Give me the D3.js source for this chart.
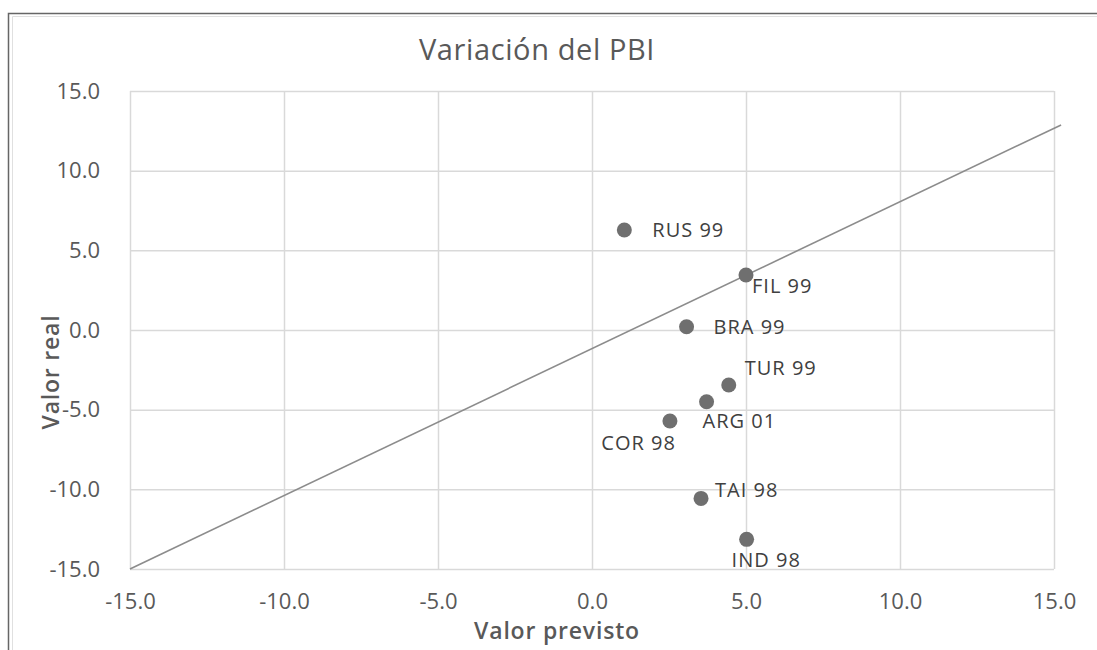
<!DOCTYPE html>
<html>
<head>
<meta charset="utf-8">
<script src="https://cdn.jsdelivr.net/npm/d3@7"></script>
<style>
	body { margin: 0; background: #fff; }
	svg text { font-family: "Open Sans", sans-serif; }
</style>
</head>
<body>
<div id="chart"></div>
<script>
// data
var countries = ['RUS 99', 'FIL 99', 'BRA 99', 'TUR 99', 'ARG 01', 'COR 98', 'TAI 98', 'IND 98'];
var previsto  = [1.05, 5.0, 3.07, 4.44, 3.72, 2.53, 3.54, 5.02];
var real      = [6.28, 3.45, 0.2, -3.45, -4.5, -5.71, -10.57, -13.14];
var refLineX  = [-15, 15.23];
var refLineY  = [-15, 12.87];
var ticks     = [-15, -10, -5, 0, 5, 10, 15];

// label offsets from each dot (px), as placed in the original
var labelOffset = {
	'RUS 99': [28, 0, 'start'],
	'FIL 99': [6, 10, 'start'],
	'BRA 99': [27, 0, 'start'],
	'TUR 99': [16, -17, 'start'],
	'ARG 01': [-4, 19, 'start'],
	'COR 98': [6, 22, 'end'],
	'TAI 98': [14, -9, 'start'],
	'IND 98': [-15, 20, 'start']
};

var width = 1097, height = 650;
var margin = {top: 91, right: 43, bottom: 81, left: 130};
var viewWidth  = width - margin.left - margin.right,
	viewHeight = height - margin.top - margin.bottom;

var svg = d3.select('#chart').append('svg')
	.attr('width', width)
	.attr('height', height);

// frame
svg.append('path')
	.attr('d', 'M8.5,650 V13.5 H1097')
	.attr('fill', 'none').attr('stroke', '#666').attr('stroke-width', 1.5);
svg.append('path')
	.attr('d', 'M12.5,650 V16.5 H1097')
	.attr('fill', 'none').attr('stroke', '#e0e0e0').attr('stroke-width', 1);

svg.append('text')
	.attr('x', 537).attr('y', 48)
	.attr('text-anchor', 'middle')
	.attr('dominant-baseline', 'central')
	.attr('fill', '#595959')
	.attr('font-size', 29)
	.attr('letter-spacing', 0.6)
	.text('Variación del PBI');

var vis = svg.append('g')
	.attr('transform', 'translate(' + margin.left + ',' + margin.top + ')');

var xScale = d3.scaleLinear().domain([-15, 15]).range([0, viewWidth]);
var yScale = d3.scaleLinear().domain([-15, 15]).range([viewHeight, 0]);

// grid
var xGrid = d3.axisBottom(xScale).tickValues(ticks).tickSize(-viewHeight).tickFormat('');
var yGrid = d3.axisLeft(yScale).tickValues(ticks).tickSize(-viewWidth).tickFormat('');
vis.append('g').attr('class', 'grid')
	.attr('transform', 'translate(0,' + viewHeight + ')')
	.call(xGrid);
vis.append('g').attr('class', 'grid')
	.call(yGrid);
vis.selectAll('.grid .domain').remove();
vis.selectAll('.grid line').attr('stroke', '#d9d9d9').attr('stroke-width', 1.5);

// tick labels (plain hyphen as minus, like the original)
var fmt = d3.formatLocale({decimal: '.', thousands: ',', grouping: [3], currency: ['', ''], minus: '-'}).format('.1f');
var xAxis = d3.axisBottom(xScale).tickValues(ticks).tickSize(0).tickPadding(24).tickFormat(fmt);
var yAxis = d3.axisLeft(yScale).tickValues(ticks).tickSize(0).tickPadding(30).tickFormat(fmt);
var gx = vis.append('g').attr('transform', 'translate(0,' + viewHeight + ')').call(xAxis);
var gy = vis.append('g').call(yAxis);
[gx, gy].forEach(function(g) {
	g.select('.domain').remove();
	g.selectAll('text').attr('fill', '#595959').attr('font-size', 22)
		.attr('font-family', '"Open Sans", sans-serif');
});

// axis titles
svg.append('text')
	.attr('x', 557).attr('y', 630)
	.attr('text-anchor', 'middle')
	.attr('dominant-baseline', 'central')
	.attr('fill', '#595959')
	.attr('font-size', 23).attr('font-weight', 600)
	.attr('letter-spacing', 0.8)
	.text('Valor previsto');
svg.append('text')
	.attr('transform', 'translate(50,372) rotate(-90)')
	.attr('text-anchor', 'middle')
	.attr('dominant-baseline', 'central')
	.attr('fill', '#595959')
	.attr('font-size', 23).attr('font-weight', 600)
	.attr('letter-spacing', 0.8)
	.text('Valor real');

// reference line
var line = d3.line()
	.x(function(d) { return xScale(d[0]); })
	.y(function(d) { return yScale(d[1]); });
vis.append('path')
	.attr('d', line(d3.zip(refLineX, refLineY)))
	.attr('fill', 'none')
	.attr('stroke', '#8c8c8c')
	.attr('stroke-width', 1.6);

// points
var pts = countries.map(function(c, i) { return {label: c, x: previsto[i], y: real[i]}; });
var point = vis.append('g').selectAll('g')
	.data(pts)
	.enter().append('g')
	.attr('transform', function(d) { return 'translate(' + xScale(d.x) + ',' + yScale(d.y) + ')'; });
point.append('circle')
	.attr('r', 7.5)
	.attr('fill', '#6f6f6f');
point.append('text')
	.attr('x', function(d) { return labelOffset[d.label][0]; })
	.attr('y', function(d) { return labelOffset[d.label][1]; })
	.attr('text-anchor', function(d) { return labelOffset[d.label][2]; })
	.attr('dominant-baseline', 'central')
	.attr('fill', '#404040')
	.attr('font-size', 20)
	.attr('letter-spacing', 1)
	.text(function(d) { return d.label; });
</script>
</body>
</html>
